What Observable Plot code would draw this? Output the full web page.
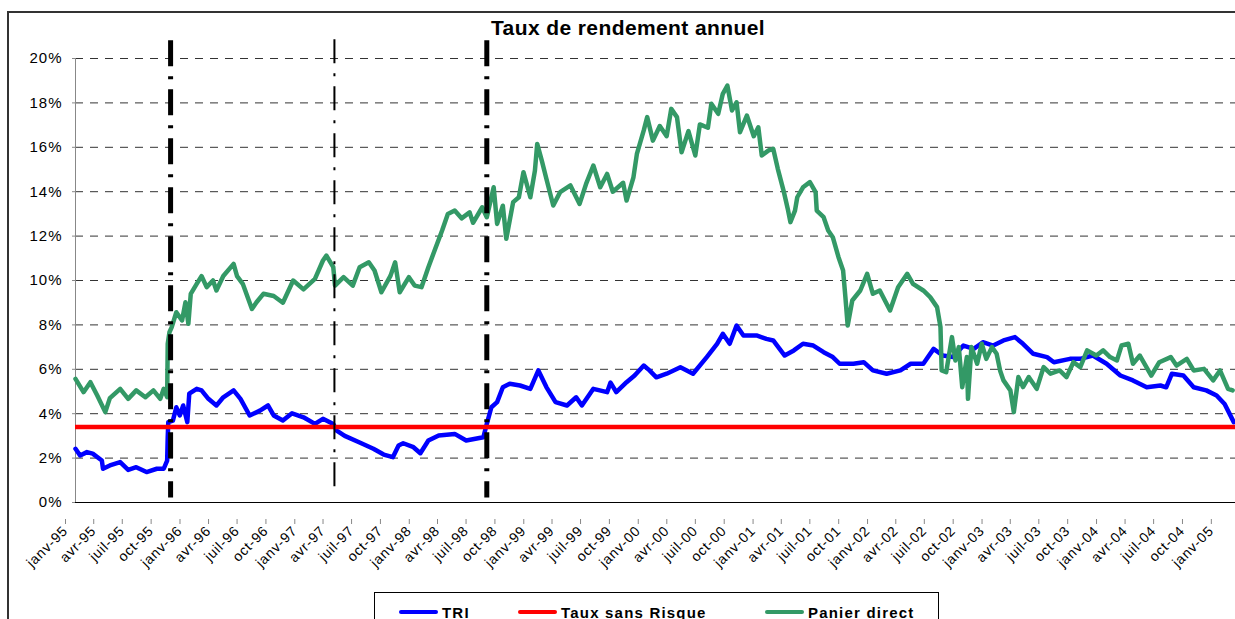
<!DOCTYPE html>
<html><head><meta charset="utf-8">
<script src="https://cdn.jsdelivr.net/npm/d3@7"></script>
<script src="https://cdn.jsdelivr.net/npm/@observablehq/plot@0.6"></script>
<style>
body{margin:0;background:#fff;font-family:"Liberation Sans",Arial,sans-serif;}
#wrap{position:relative;width:1235px;height:619px;overflow:hidden;background:#fff;}
#frame{position:absolute;left:7px;top:11px;width:1300px;height:700px;border:2px solid #333;box-sizing:border-box;}
#title{position:absolute;left:0;width:1256px;top:16px;text-align:center;font-weight:bold;font-size:21px;letter-spacing:0.4px;line-height:24px;color:#000;}
#chart{position:absolute;left:0;top:0;}
#legend{position:absolute;left:374px;top:592px;width:563px;height:40px;border:1px solid #000;background:#fff;}
.item{position:absolute;top:9px;height:20px;display:flex;align-items:center;font-weight:bold;font-size:15px;letter-spacing:1.2px;color:#000;white-space:nowrap;}
.sw{display:inline-block;width:39px;height:4px;border-radius:2px;margin-right:4px;}
</style></head>
<body>
<div id="wrap">
  <div id="frame"></div>
  <div id="chart"></div>
  <div id="title">Taux de rendement annuel</div>
  <div id="legend"></div>
</div>
<script>
// Time positions as years since 1 Jan 1995
const triT = [0,0.04,0.10,0.15,0.23,0.24,0.30,0.39,0.46,0.53,0.62,0.71,0.77,0.80,0.805,0.81,0.85,0.88,0.91,0.94,0.976,0.993,1.058,1.10,1.16,1.23,1.29,1.38,1.44,1.52,1.61,1.68,1.73,1.81,1.89,1.99,2.09,2.16,2.25,2.28,2.35,2.48,2.60,2.69,2.77,2.82,2.86,2.95,3.01,3.08,3.17,3.31,3.41,3.56,3.59,3.63,3.68,3.73,3.79,3.88,3.97,4.04,4.11,4.19,4.29,4.37,4.42,4.52,4.64,4.67,4.72,4.81,4.88,4.96,5.01,5.07,5.16,5.28,5.39,5.51,5.60,5.65,5.71,5.77,5.83,5.95,6.03,6.09,6.19,6.27,6.35,6.44,6.53,6.61,6.67,6.79,6.88,6.96,7.08,7.20,7.29,7.40,7.49,7.57,7.66,7.75,7.84,7.92,8.01,8.10,8.20,8.27,8.36,8.48,8.54,8.68,8.77,8.88,9.00,9.12,9.23,9.35,9.47,9.52,9.57,9.67,9.76,9.87,9.96,10.03,10.11];
const triV = [2.42,2.12,2.27,2.2,1.89,1.52,1.67,1.82,1.47,1.59,1.37,1.52,1.52,1.89,2.94,3.62,3.69,4.29,3.92,4.37,3.62,4.9,5.12,5.05,4.67,4.37,4.74,5.05,4.67,3.92,4.14,4.37,3.92,3.69,4.02,3.84,3.54,3.77,3.54,3.24,3.0,2.7,2.42,2.16,2.04,2.57,2.67,2.49,2.22,2.79,3.02,3.09,2.79,2.94,3.54,4.29,4.52,5.19,5.35,5.27,5.12,5.95,5.2,4.52,4.37,4.74,4.37,5.12,4.97,5.4,4.97,5.42,5.72,6.17,5.95,5.64,5.8,6.09,5.8,6.55,7.15,7.6,7.15,7.97,7.52,7.52,7.37,7.3,6.62,6.85,7.15,7.07,6.77,6.55,6.25,6.25,6.32,5.95,5.8,5.95,6.25,6.25,6.92,6.62,6.55,7.07,6.92,7.22,7.07,7.3,7.45,7.15,6.7,6.55,6.32,6.47,6.47,6.62,6.25,5.72,5.5,5.19,5.27,5.19,5.8,5.72,5.19,5.05,4.82,4.44,3.62];
const panT = [0,0.07,0.13,0.19,0.26,0.30,0.39,0.46,0.53,0.61,0.68,0.74,0.77,0.80,0.805,0.82,0.84,0.88,0.93,0.96,0.985,1.006,1.058,1.10,1.145,1.20,1.23,1.29,1.38,1.41,1.46,1.54,1.58,1.64,1.73,1.81,1.90,1.99,2.09,2.16,2.19,2.25,2.265,2.34,2.42,2.48,2.56,2.61,2.67,2.75,2.79,2.83,2.91,2.96,3.02,3.08,3.14,3.20,3.25,3.31,3.37,3.44,3.47,3.55,3.59,3.65,3.68,3.73,3.76,3.82,3.87,3.91,3.97,4.01,4.03,4.07,4.11,4.17,4.23,4.32,4.40,4.46,4.52,4.58,4.64,4.69,4.78,4.81,4.87,4.90,4.96,4.99,5.04,5.10,5.16,5.20,5.25,5.29,5.35,5.41,5.45,5.52,5.55,5.61,5.65,5.69,5.73,5.77,5.80,5.86,5.92,5.96,5.99,6.05,6.09,6.13,6.18,6.22,6.24,6.28,6.30,6.35,6.41,6.46,6.47,6.53,6.57,6.61,6.66,6.70,6.72,6.74,6.78,6.85,6.91,6.96,7.02,7.11,7.18,7.26,7.31,7.40,7.46,7.52,7.55,7.56,7.60,7.65,7.68,7.71,7.74,7.78,7.79,7.82,7.87,7.91,7.95,7.999,8.04,8.07,8.10,8.16,8.19,8.23,8.27,8.32,8.39,8.45,8.51,8.59,8.65,8.71,8.77,8.83,8.91,8.97,9.03,9.09,9.13,9.19,9.23,9.29,9.39,9.46,9.56,9.61,9.70,9.76,9.85,9.93,9.99,10.06,10.10];
const panV = [5.57,4.97,5.42,4.82,4.07,4.7,5.12,4.67,5.05,4.74,5.05,4.67,5.12,4.74,7.15,7.67,7.9,8.57,8.2,9.02,8.05,9.4,9.85,10.2,9.7,10.0,9.55,10.2,10.75,10.2,9.85,8.72,9.02,9.4,9.3,9.0,10.0,9.6,10.07,10.9,11.12,10.6,9.77,10.15,9.77,10.6,10.82,10.45,9.47,10.22,10.82,9.47,10.15,9.77,9.7,10.6,11.43,12.25,13.0,13.15,12.8,13.07,12.6,13.3,12.85,14.2,12.55,13.37,11.88,13.53,13.75,14.88,13.75,14.95,16.15,15.4,14.58,13.38,13.98,14.28,13.45,14.4,15.18,14.2,14.8,14.0,14.4,13.6,14.65,15.7,16.76,17.36,16.3,16.96,16.5,17.73,17.36,15.78,16.73,15.63,17.03,16.88,17.96,17.51,18.41,18.78,17.66,18.03,16.68,17.43,16.5,16.9,15.63,15.86,15.93,15.03,14.05,13.15,12.63,13.15,13.75,14.2,14.43,13.98,13.15,12.85,12.25,11.95,11.05,10.45,9.25,7.97,9.1,9.55,10.3,9.4,9.55,8.65,9.7,10.3,9.85,9.55,9.25,8.8,7.9,5.95,5.87,7.45,6.4,7.0,5.19,6.55,4.67,7.0,6.25,7.15,6.47,7.0,6.7,5.95,5.5,5.05,4.07,5.65,5.2,5.65,5.12,6.1,5.8,5.95,5.65,6.32,6.1,6.85,6.62,6.85,6.55,6.4,7.07,7.15,6.25,6.62,5.72,6.32,6.55,6.17,6.47,5.95,6.02,5.5,5.95,5.12,5.05];
const riskFreeRate = 3.4;
const thickEvents = [0.83, 3.59];
const thinEvents = [2.26];
const yTicks = [0,2,4,6,8,10,12,14,16,18,20];
const quarterNames = ["janv","avr","juil","oct"];
const seriesNames = ["TRI","Taux sans Risque","Panier direct"];
const seriesColors = ["#0000ff","#ff0000","#339966"];

const t0 = Date.UTC(1995,0,1);
const toDate = t => new Date(t0 + t*365.25*864e5);
const tri = triT.map((t,i)=>({date:toDate(t), v:triV[i]}));
const pan = panT.map((t,i)=>({date:toDate(t), v:panV[i]}));
const xTicks = d3.utcMonth.every(3).range(new Date(Date.UTC(1995,0,1)), new Date(Date.UTC(2005,1,1)));
const fmt = d => quarterNames[d.getUTCMonth()/3] + "-" + String(d.getUTCFullYear()).slice(2);

const chart = Plot.plot({
  width:1235, height:590,
  marginLeft:75, marginRight:0, marginTop:58, marginBottom:88,
  style:{background:"transparent", fontFamily:"Liberation Sans, Arial, sans-serif", fontSize:"14px", color:"#000", overflow:"visible"},
  x:{type:"utc", domain:[toDate(0), toDate(10.125)]},
  y:{domain:[0,20]},
  marks:[
    Plot.gridY(yTicks.filter(d=>d>0), {stroke:"#333", strokeOpacity:1, strokeWidth:1, strokeDasharray:"8,7"}),
    Plot.ruleX([toDate(0)], {stroke:"#888", strokeWidth:1}),
    Plot.ruleY([0], {stroke:"#000", strokeWidth:1}),
    Plot.axisY(yTicks, {tickSize:3, tickPadding:10, tickFormat:d=>d+"%", stroke:"#888", fontSize:15, label:null}),
    Plot.axisX(xTicks, {tickSize:5, tickPadding:4, tickFormat:fmt, tickRotate:-45, stroke:"#888", fontSize:14, dx:-10, dy:17, label:null}),
    Plot.line(tri, {x:"date", y:"v", stroke:seriesColors[0], strokeWidth:4.5, strokeLinejoin:"round", strokeLinecap:"round"}),
    Plot.ruleY([riskFreeRate], {stroke:seriesColors[1], strokeWidth:4.5}),
    Plot.line(pan, {x:"date", y:"v", stroke:seriesColors[2], strokeWidth:4.5, strokeLinejoin:"round", strokeLinecap:"round"}),
    Plot.ruleX(thickEvents.map(toDate), {y1:20.8, y2:0.2, stroke:"#000", strokeWidth:5, strokeDasharray:"26,10,3,10"}),
    Plot.ruleX(thinEvents.map(toDate), {y1:20.85, y2:0.5, stroke:"#000", strokeWidth:2, strokeDasharray:"24,10,3,10"})
  ]
});
document.getElementById("chart").appendChild(chart);
d3.select(chart).selectAll('g[aria-label="x-axis tick label"] text').style("letter-spacing","0.8px");
d3.select(chart).selectAll('g[aria-label="y-axis tick label"] text').style("letter-spacing","1px");

const legendPos = [24, 143, 390];
const legend = document.getElementById("legend");
seriesNames.forEach((n,i)=>{
  const it = document.createElement("div");
  it.className = "item";
  it.style.left = legendPos[i] + "px";
  it.innerHTML = `<span class="sw" style="background:${seriesColors[i]}"></span><span>${n}</span>`;
  legend.appendChild(it);
});
</script>
</body></html>
